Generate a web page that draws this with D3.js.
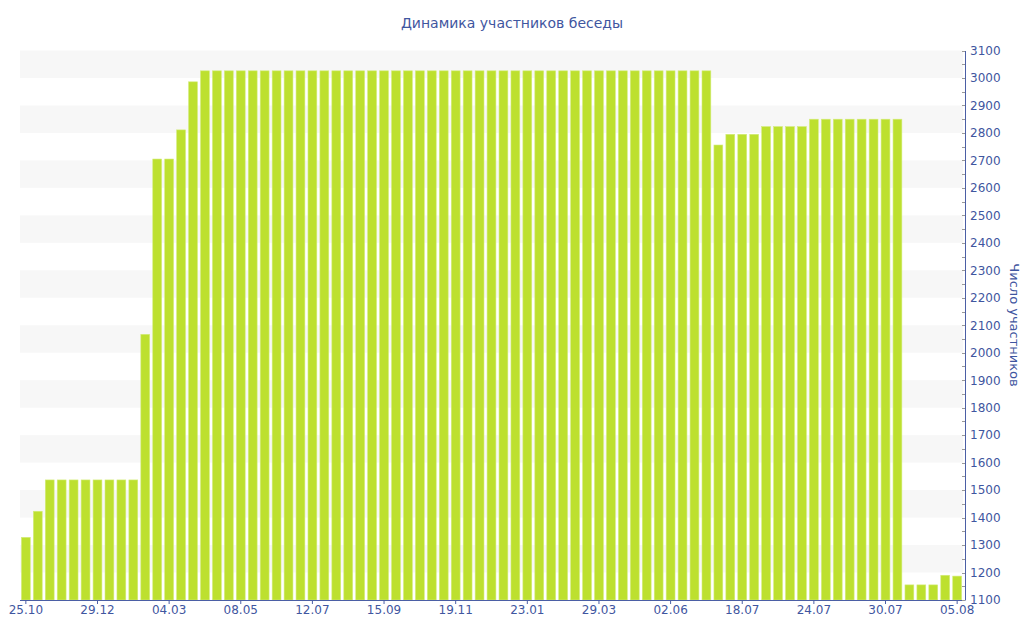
<!DOCTYPE html>
<html>
<head>
<meta charset="utf-8">
<script src="https://cdn.jsdelivr.net/npm/d3@7"></script>
<style>
  body { margin: 0; background: #fff; }
  svg { display: block; font-family: "DejaVu Sans", Verdana, sans-serif; }
</style>
</head>
<body>
<div id="chart"></div>
<script>
// chart data
const title = "Динамика участников беседы";
const yTitle = "Число участников";
const tickLabels = ["25.10", "29.12", "04.03", "08.05", "12.07", "15.09", "19.11",
  "23.01", "29.03", "02.06", "18.07", "24.07", "30.07", "05.08"];
const values = [
  1328, 1423, 1537, 1537, 1537, 1537, 1537, 1537, 1537, 1537,
  2067, 2705, 2705, 2811, 2986, 3026, 3026, 3026, 3026, 3026,
  3026, 3026, 3026, 3026, 3026, 3026, 3026, 3026, 3026, 3026,
  3026, 3026, 3026, 3026, 3026, 3026, 3026, 3026, 3026, 3026,
  3026, 3026, 3026, 3026, 3026, 3026, 3026, 3026, 3026, 3026,
  3026, 3026, 3026, 3026, 3026, 3026, 3026, 3026, 2756, 2795,
  2795, 2795, 2823, 2823, 2823, 2823, 2850, 2850, 2850, 2850,
  2850, 2850, 2850, 2850, 1155, 1155, 1155, 1190, 1187
];
const labelEvery = 6;

const width = 1024, height = 640;
const margin = { top: 50.5, right: 61, bottom: 40, left: 20 };
const textColor = "#3f56a0";
const axisColor = "#4b5fa5";

const svg = d3.select("#chart")
  .append("svg")
  .attr("width", width)
  .attr("height", height);

const x = d3.scaleBand()
  .domain(d3.range(values.length))
  .range([margin.left, width - margin.right])
  .paddingInner(0.26)
  .paddingOuter(0.12);

const y = d3.scaleLinear()
  .domain([1100, 3100])
  .range([height - margin.bottom, margin.top]);

// alternating bands
const bandStarts = d3.range(1200, 3100, 200);
svg.append("g")
  .selectAll("rect")
  .data(bandStarts)
  .join("rect")
  .attr("x", margin.left)
  .attr("width", width - margin.right - margin.left)
  .attr("y", d => y(d + 100))
  .attr("height", d => y(d) - y(d + 100))
  .attr("fill", "#f7f7f7");

// title
svg.append("text")
  .attr("x", 512)
  .attr("y", 28)
  .attr("text-anchor", "middle")
  .attr("font-size", 14)
  .attr("fill", textColor)
  .text(title);

// bars
svg.append("g")
  .selectAll("rect")
  .data(values)
  .join("rect")
  .attr("x", (d, i) => x(i))
  .attr("width", x.bandwidth())
  .attr("y", d => y(d))
  .attr("height", d => y(1100) - y(d))
  .attr("fill", "#bde02f")
  .attr("stroke", "#d3ec7a")
  .attr("stroke-width", 0.6);

// x axis
const xTicks = d3.range(0, values.length, labelEvery);
const xAxis = svg.append("g")
  .attr("transform", `translate(0,${y(1100)})`)
  .call(d3.axisBottom(x)
    .tickValues(xTicks)
    .tickSize(4)
    .tickSizeOuter(0)
    .tickFormat((d, i) => tickLabels[i]));
xAxis.select(".domain").attr("stroke", axisColor).attr("d", `M${margin.left},0.5H${width - margin.right + 2}`);
xAxis.selectAll(".tick line").attr("stroke", axisColor);
xAxis.selectAll(".tick text")
  .attr("fill", textColor)
  .attr("font-size", 12)
  .attr("font-family", "DejaVu Sans, Verdana, sans-serif")
  .attr("dy", "0.6em");

// y axis (right)
const axisX = width - margin.right + 2;
const yAxis = svg.append("g")
  .attr("transform", `translate(${axisX},0)`)
  .call(d3.axisRight(y)
    .tickValues(d3.range(1100, 3101, 100))
    .tickSize(0)
    .tickPadding(5)
    .tickFormat(d3.format("d")));
yAxis.select(".domain").attr("stroke", axisColor);
yAxis.selectAll(".tick text")
  .attr("fill", textColor)
  .attr("font-size", 12)
  .attr("font-family", "DejaVu Sans, Verdana, sans-serif");

// small tick marks on the inner side
svg.append("g")
  .selectAll("line")
  .data(d3.range(1100, 3101, 50))
  .join("line")
  .attr("x1", axisX - 3)
  .attr("x2", axisX)
  .attr("y1", d => Math.round(y(d)) + 0.5)
  .attr("y2", d => Math.round(y(d)) + 0.5)
  .attr("stroke", "#999");

// y title
svg.append("text")
  .attr("transform", `translate(1010,325) rotate(90)`)
  .attr("text-anchor", "middle")
  .attr("font-size", 13)
  .attr("fill", textColor)
  .text(yTitle);
</script>
</body>
</html>
